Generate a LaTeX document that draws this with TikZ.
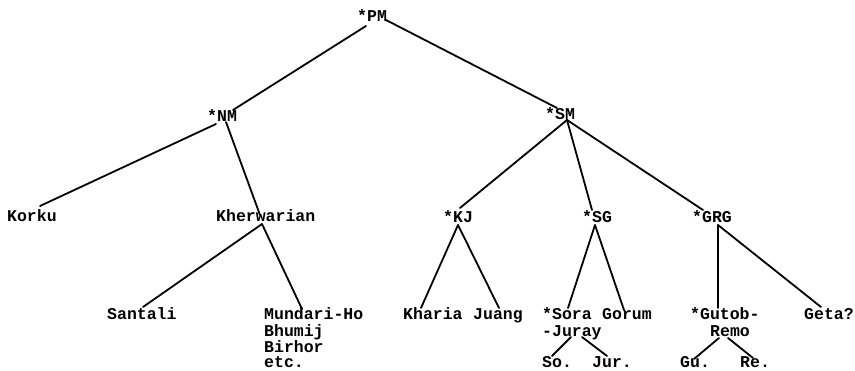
\documentclass[tikz,border=0pt]{standalone}
\usepackage{fontspec}
\newfontfamily\typew{Liberation Mono}
\begin{document}
\begin{tikzpicture}[x=1pt,y=-1pt,
  txt/.style={anchor=base west, inner sep=0pt, font=\typew\bfseries\fontsize{16.5}{18}\selectfont},
  edge/.style={line width=1.8pt, line cap=round}]
\useasboundingbox[fill=white] (0,0) rectangle (855,371);
% labels
\node[txt] (PM) at (357,22) {*PM};
\node[txt] (NM) at (207,122) {*NM};
\node[txt] (SM) at (545,120) {*SM};
\node[txt] (korku) at (7,222) {Korku};
\node[txt] (kherw) at (216,222) {Kherwarian};
\node[txt] (KJ) at (443,223) {*KJ};
\node[txt] (SG) at (582,223) {*SG};
\node[txt] (GRG) at (692,223) {*GRG};
\node[txt] (santali) at (107,320) {Santali};
\node[txt] (mund) at (264,320) {Mundari-Ho};
\node[txt] (bhum) at (264,337) {Bhumij};
\node[txt] (birh) at (264,353) {Birhor};
\node[txt] (etc) at (264,368) {etc.};
\node[txt] (kharia) at (403,320) {Kharia};
\node[txt] (juang) at (473,320) {Juang};
\node[txt] (sora) at (542,320) {*Sora};
\node[txt] (juray) at (542,337) {-Juray};
\node[txt] (gorum) at (602,320) {Gorum};
\node[txt] (so) at (542,368) {So.};
\node[txt] (jur) at (592,368) {Jur.};
\node[txt] (gutob) at (690,320) {*Gutob-};
\node[txt] (remo) at (710,337) {Remo};
\node[txt] (gu) at (680,368) {Gu.};
\node[txt] (re) at (740,368) {Re.};
\node[txt] (geta) at (804,320) {Geta?};
% connector end points
\coordinate (PMa) at (366,26);   \coordinate (NMt) at (233,110);
\coordinate (PMb) at (386,20);   \coordinate (SMt) at (557,108);
\coordinate (NMa) at (216,124);  \coordinate (korkut) at (40,206);
\coordinate (NMb) at (226,122);  \coordinate (kherwt) at (260,215);
\coordinate (kherwb) at (262,224); \coordinate (santalit) at (143,307);
\coordinate (mundt) at (302,309);
\coordinate (SMb) at (567,120);  \coordinate (KJt) at (460,208);
\coordinate (SGt) at (592,210);  \coordinate (GRGt) at (703,210);
\coordinate (KJb) at (458,225);  \coordinate (khariat) at (421,308);
\coordinate (juangt) at (499,308);
\coordinate (SGb) at (595,225);  \coordinate (sorat) at (568,308);
\coordinate (gorumt) at (624,310);
\coordinate (GRGb) at (718,225); \coordinate (gutobt) at (718,308);
\coordinate (getat) at (821,307);
\coordinate (jurayb1) at (571,337); \coordinate (sot) at (552,356);
\coordinate (jurayb2) at (582,337); \coordinate (jurt) at (607,356);
\coordinate (remob1) at (719,338); \coordinate (gut) at (694,359);
\coordinate (remob2) at (728,338); \coordinate (ret) at (753,358);
% connectors
\draw[edge] (PMa) -- (NMt);
\draw[edge] (PMb) -- (SMt);
\draw[edge] (NMa) -- (korkut);
\draw[edge] (NMb) -- (kherwt);
\draw[edge] (kherwb) -- (santalit);
\draw[edge] (kherwb) -- (mundt);
\draw[edge] (SMb) -- (KJt);
\draw[edge] (SMb) -- (SGt);
\draw[edge] (SMb) -- (GRGt);
\draw[edge] (KJb) -- (khariat);
\draw[edge] (KJb) -- (juangt);
\draw[edge] (SGb) -- (sorat);
\draw[edge] (SGb) -- (gorumt);
\draw[edge] (GRGb) -- (gutobt);
\draw[edge] (GRGb) -- (getat);
\draw[edge] (jurayb1) -- (sot);
\draw[edge] (jurayb2) -- (jurt);
\draw[edge] (remob1) -- (gut);
\draw[edge] (remob2) -- (ret);
\end{tikzpicture}
\end{document}
